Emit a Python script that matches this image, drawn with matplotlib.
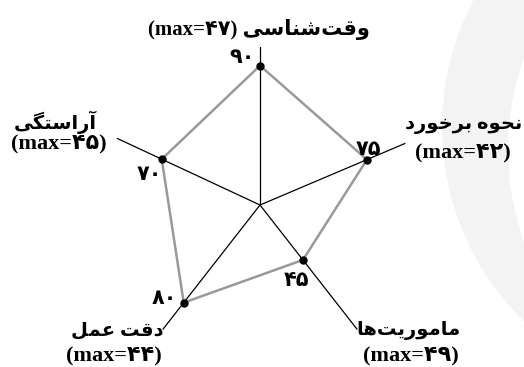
import numpy as np
import matplotlib.pyplot as plt
from matplotlib.patches import Circle

# axis names (Persian) and their max values, plus the scores
names = ['وقت‌شناسی', 'نحوه برخورد', 'ماموریت‌ها', 'دقت عمل', 'آراستگی']
max_labels = ['۴۷', '۴۲', '۴۹', '۴۴', '۴۵']
values = [90, 75, 45, 80, 70]
value_labels = ['۹۰', '۷۵', '۴۵', '۸۰', '۷۰']

# arabic letter forms: isolated, final, initial, medial (None = does not join forward)
FORMS = {
    'ا': ('\uFE8D', '\uFE8E', None, None),
    'آ': ('\uFE81', '\uFE82', None, None),
    'و': ('\uFEED', '\uFEEE', None, None),
    'ر': ('\uFEAD', '\uFEAE', None, None),
    'د': ('\uFEA9', '\uFEAA', None, None),
    'ق': ('\uFED5', '\uFED6', '\uFED7', '\uFED8'),
    'ت': ('\uFE95', '\uFE96', '\uFE97', '\uFE98'),
    'ش': ('\uFEB5', '\uFEB6', '\uFEB7', '\uFEB8'),
    'ن': ('\uFEE5', '\uFEE6', '\uFEE7', '\uFEE8'),
    'س': ('\uFEB1', '\uFEB2', '\uFEB3', '\uFEB4'),
    'ی': ('\uFBFC', '\uFBFD', '\uFBFE', '\uFBFF'),
    'ح': ('\uFEA1', '\uFEA2', '\uFEA3', '\uFEA4'),
    'ه': ('\uFEE9', '\uFEEA', '\uFEEB', '\uFEEC'),
    'ب': ('\uFE8F', '\uFE90', '\uFE91', '\uFE92'),
    'خ': ('\uFEA5', '\uFEA6', '\uFEA7', '\uFEA8'),
    'م': ('\uFEE1', '\uFEE2', '\uFEE3', '\uFEE4'),
    'ع': ('\uFEC9', '\uFECA', '\uFECB', '\uFECC'),
    'ل': ('\uFEDD', '\uFEDE', '\uFEDF', '\uFEE0'),
    'گ': ('\uFB92', '\uFB93', '\uFB94', '\uFB95'),
}


def shape(word):
    # join letters and flip to visual order, since matplotlib does no bidi
    out = []
    for i, ch in enumerate(word):
        if ch not in FORMS:
            out.append(ch)
            continue
        prev = word[i - 1] if i > 0 else None
        nxt = word[i + 1] if i + 1 < len(word) else None
        jp = prev in FORMS and FORMS[prev][2] is not None
        jn = FORMS[ch][2] is not None and nxt in FORMS
        iso, fin, ini, med = FORMS[ch]
        if jp and jn:
            out.append(med)
        elif jp:
            out.append(fin)
        elif jn:
            out.append(ini)
        else:
            out.append(iso)
    s = ''.join(c for c in out if c != '\u200c')
    return s[::-1]


fam = ['Liberation Serif', 'DejaVu Sans']

fig = plt.figure(figsize=(5.24, 3.67), dpi=100)

# faint watermark on the right
bg = fig.add_axes([0, 0, 1, 1])
bg.set_xlim(0, 524)
bg.set_ylim(367, 0)
bg.axis('off')
bg.add_patch(Circle((713, 127), 271, color='#f3f3f3', lw=0))
bg.add_patch(Circle((780, 150), 272, color='white', lw=0))

ax = fig.add_axes([0.1947, 0.0109, 0.603, 0.861], projection='polar')
ax.set_axis_off()
ax.set_ylim(0, 102)

angles = np.deg2rad([90, 23, -52, -128, 155])

for a in angles:
    ax.plot([a, a], [0, 102], color='black', lw=0.9, zorder=2)

ang_closed = np.append(angles, angles[0])
val_closed = np.append(values, values[0])
ax.plot(ang_closed, val_closed, color='#999999', lw=1.8, zorder=3)
ax.plot(angles, values, 'o', color='black', ms=5, zorder=4)

# value labels near the points (pixel positions)
val_pos = [(242, 58), (368, 150), (296, 281), (164, 299), (149, 175)]
for (x, y), lab in zip(val_pos, value_labels):
    fig.text(x / 524, 1 - y / 367, lab, ha='center', va='center',
             family=fam, fontweight='bold', fontsize=15)

# axis labels
top = '(max=' + max_labels[0] + ') ' + shape(names[0])
fig.text(259 / 524, 1 - 30 / 367, top, ha='center', va='center',
         family=fam, fontweight='bold', fontsize=15)

name_pos = [None, (464, 126), (409, 330), (117, 331), (55, 122)]
max_pos = [None, (463, 153), (411, 356), (114, 356), (59, 144)]
for i in range(1, 5):
    x, y = name_pos[i]
    fig.text(x / 524, 1 - y / 367, shape(names[i]), ha='center', va='center',
             family=fam, fontweight='bold', fontsize=14)
    x, y = max_pos[i]
    fig.text(x / 524, 1 - y / 367, '(max=' + max_labels[i] + ')', ha='center',
             va='center', family=fam, fontweight='bold', fontsize=16)

plt.savefig('out.png', dpi=100)
